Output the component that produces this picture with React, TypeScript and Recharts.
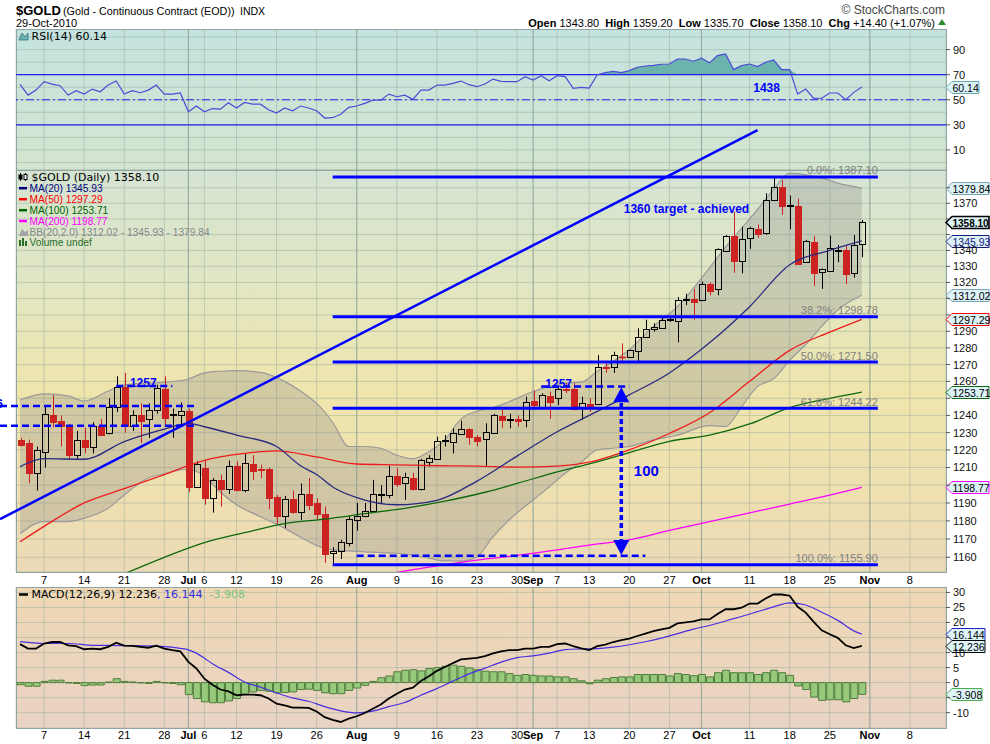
import React from 'react';
import {
  ComposedChart,
  XAxis,
  YAxis,
  Bar,
  Line,
  Area,
  CartesianGrid,
  ReferenceLine,
  ReferenceDot,
} from 'recharts';

// trading days on the x axis (month -> days), incl. the empty days up to mid Nov
const monthDays: [number, number[]][] = [
  [6, [2, 3, 4, 7, 8, 9, 10, 11, 14, 15, 16, 17, 18, 21, 22, 23, 24, 25, 28, 29, 30]],
  [7, [1, 2, 6, 7, 8, 9, 12, 13, 14, 15, 16, 19, 20, 21, 22, 23, 26, 27, 28, 29, 30]],
  [8, [2, 3, 4, 5, 6, 9, 10, 11, 12, 13, 16, 17, 18, 19, 20, 23, 24, 25, 26, 27, 30, 31]],
  [9, [1, 2, 3, 7, 8, 9, 10, 13, 14, 15, 16, 17, 20, 21, 22, 23, 24, 27, 28, 29, 30]],
  [10, [1, 4, 5, 6, 7, 8, 11, 12, 13, 14, 15, 18, 19, 20, 21, 22, 25, 26, 27, 28, 29]],
  [11, [1, 2, 3, 4, 5, 8, 9, 10, 11, 12]],
];
const dates = monthDays.flatMap(([m, ds]) => ds.map((d) => `${m}/${d}`));

const tickDates = ['6/7', '6/14', '6/21', '6/28', '7/1', '7/6', '7/12', '7/19', '7/26', '8/2', '8/9', '8/16', '8/23',
  '8/30', '9/1', '9/7', '9/13', '9/20', '9/27', '10/1', '10/11', '10/18', '10/25', '11/1', '11/8'];
const tickLabels = ['7', '14', '21', '28', 'Jul', '6', '12', '19', '26', 'Aug', '9', '16', '23',
  '30', 'Sep', '7', '13', '20', '27', 'Oct', '11', '18', '25', 'Nov', '8'];
const monthStarts = ['7/1', '8/2', '9/1', '10/1', '11/1'];

const open = [1226, 1224, 1207, 1219, 1240, 1237, 1234, 1217, 1226, 1222,
  1234, 1229.5, 1245, 1256.5, 1234, 1240, 1237.7, 1243, 1255.5, 1240,
  1240.3, 1242.6, 1199, 1209.6, 1193, 1203, 1198, 1211, 1197, 1212,
  1209.2, 1209, 1193.5, 1183, 1192, 1185, 1195, 1190, 1184, 1162.2,
  1163.4, 1168, 1180.5, 1182.7, 1185.7, 1194.5, 1194.6, 1205, 1201.3, 1204,
  1198, 1213.3, 1214.7, 1225, 1224.8, 1229.2, 1232, 1227.6, 1226.2, 1230,
  1239.7, 1237.5, 1238, 1237.3, 1248.3, 1245, 1251.5, 1250, 1255.5, 1255.3,
  1244.6, 1246.7, 1246.5, 1268.5, 1268.4, 1274.8, 1274.7, 1278, 1286.7, 1291.2,
  1292.2, 1297, 1296.3, 1309, 1309.7, 1309, 1319, 1315.7, 1339.9, 1349,
  1333.6, 1348, 1353.4, 1350.8, 1372.1, 1380.7, 1368.5, 1368, 1333, 1345.5,
  1326.2, 1327.3, 1339.5, 1340.3, 1325.6, 1343.8];
const high = [1227, 1226, 1222, 1245, 1252, 1240, 1235, 1231, 1233, 1236,
  1238, 1250, 1263, 1265, 1243, 1247, 1247, 1258, 1263, 1244,
  1247.6, 1244, 1213.5, 1214, 1204, 1206, 1214, 1213.5, 1218, 1217,
  1211.6, 1210, 1194.5, 1194, 1197, 1201, 1204, 1192.6, 1188, 1165.5,
  1169.5, 1182.5, 1190, 1190, 1203, 1200, 1211, 1209.6, 1207, 1207,
  1215, 1217, 1227.7, 1228.6, 1232.5, 1237, 1232.5, 1228.6, 1235.4, 1241,
  1244, 1241, 1240, 1251, 1254.5, 1253, 1254, 1257, 1259, 1258.9,
  1251, 1250, 1275.7, 1271, 1277.7, 1282.7, 1279, 1291.8, 1297, 1294.9,
  1299, 1299, 1311, 1313, 1316, 1320.5, 1320, 1341.3, 1349.7, 1364.6,
  1355, 1355, 1356.4, 1376.4, 1387.1, 1385, 1375, 1373, 1346.6, 1349,
  1328.7, 1349.3, 1343.4, 1343.4, 1349.7, 1359.2];
const low = [1222, 1201, 1197, 1210, 1233, 1222, 1215, 1215, 1218, 1218,
  1228, 1229, 1242, 1230, 1231, 1224, 1227, 1241, 1234, 1227,
  1234, 1196, 1198.5, 1189, 1184.6, 1188, 1195, 1196.5, 1196, 1203,
  1204, 1186.5, 1177.8, 1176, 1184, 1180.5, 1186, 1180.5, 1157, 1155.9,
  1159, 1166, 1174.6, 1182, 1185, 1190, 1192.6, 1199, 1191.7, 1197,
  1197, 1210.5, 1214.3, 1222, 1218, 1229, 1223, 1222, 1211, 1229.5,
  1232.5, 1232.5, 1233.5, 1233, 1243.2, 1243.5, 1238, 1246, 1253, 1243,
  1237.3, 1242, 1246, 1265, 1265, 1271.7, 1274, 1271.7, 1286, 1289.8,
  1291.8, 1295.7, 1283.3, 1306, 1297, 1308.5, 1312, 1312, 1339.2, 1326,
  1325.6, 1341, 1348, 1349.7, 1371.5, 1362.5, 1353.4, 1331, 1332.4, 1318,
  1316, 1327, 1332.6, 1319, 1322.9, 1335.7];
const close = [1223, 1207, 1220, 1240.6, 1236, 1234, 1217, 1226, 1222, 1234,
  1228.5, 1245, 1256.5, 1234, 1240, 1237, 1243, 1256, 1238.7, 1241,
  1242.6, 1199, 1212, 1192.6, 1203, 1198, 1211, 1197, 1212.5, 1208,
  1208.6, 1193, 1183, 1192, 1185, 1195, 1189, 1184, 1162, 1163.4,
  1168.2, 1181, 1182.7, 1185.7, 1195, 1195, 1205, 1200.6, 1204.4, 1198,
  1214, 1215.2, 1225.2, 1225.5, 1229.6, 1232, 1227.6, 1225.3, 1230.2, 1240,
  1237.3, 1238, 1237, 1248, 1246, 1252, 1248, 1255.3, 1255, 1243.8,
  1247.3, 1245.5, 1268.4, 1268, 1275.7, 1274.3, 1278.7, 1286.7, 1291.4, 1292.4,
  1296.9, 1297.5, 1309.1, 1309.5, 1308.1, 1319, 1314.7, 1340.7, 1349.1, 1333.6,
  1347.2, 1354, 1350.4, 1372.1, 1380.7, 1368.3, 1369, 1331.5, 1346, 1325.6,
  1328.1, 1341.3, 1340, 1325, 1343.7, 1358.1];

// moving averages / bands at a few days: [dayIndex, value]
const ma20: [number, number][] = [[0, 1210.5], [3, 1215], [8, 1214.7], [13, 1224.8], [18, 1232], [21, 1235.4],
  [23, 1233.4], [27, 1228.6], [32, 1222], [35, 1211], [37, 1206], [39, 1199], [42, 1193], [47, 1189], [52, 1191.5],
  [57, 1202.3], [62, 1216.5], [67, 1230.5], [71, 1240], [76, 1252], [81, 1265], [86, 1283], [91, 1305], [96, 1331],
  [101, 1340], [105, 1345.93]];
const ma50: [number, number][] = [[0, 1168.5], [3, 1177], [8, 1190], [13, 1198], [18, 1206], [23, 1214], [28, 1218],
  [32, 1219.5], [37, 1216], [42, 1212], [47, 1211.5], [52, 1211], [57, 1210.8], [62, 1210.2], [67, 1210.8], [71, 1213],
  [76, 1220], [81, 1229.5], [86, 1241.5], [91, 1260], [96, 1278.5], [101, 1289.5], [105, 1297.29]];
const ma100: [number, number][] = [[13, 1151], [18, 1160], [23, 1168], [28, 1173.5], [33, 1178.5], [38, 1181], [43, 1184],
  [48, 1187], [53, 1191], [58, 1196], [62, 1201], [67, 1207.5], [71, 1212], [76, 1218.5], [81, 1225], [86, 1228.5],
  [91, 1235], [96, 1244.5], [101, 1250], [105, 1253.71]];
const ma200: [number, number][] = [[46, 1151], [52, 1155.3], [57, 1158.5], [62, 1161], [67, 1164], [71, 1166.7],
  [76, 1169.5], [81, 1174.7], [86, 1179.6], [91, 1184.5], [96, 1189.4], [101, 1194.4], [105, 1198.77]];
// Bollinger band: [dayIndex, lower, upper]
const bands: [number, number, number][] = [[0, 1173, 1249], [3, 1179.6, 1252.6], [6, 1179.6, 1251.4], [8, 1181.5, 1248.4],
  [11, 1187, 1254.3], [13, 1194.5, 1258], [16, 1204, 1259], [18, 1206.5, 1259.4], [21, 1209, 1261.4], [23, 1205, 1265],
  [25, 1196, 1266], [27, 1189, 1266.4], [30, 1182.3, 1265.3], [33, 1176, 1260], [35, 1171, 1254.3], [37, 1166.5, 1247],
  [39, 1164, 1236], [41, 1163.5, 1222], [43, 1163, 1222], [45, 1162.5, 1221], [47, 1162.2, 1217], [49, 1161, 1215],
  [51, 1159.5, 1219], [53, 1158, 1226], [55, 1158, 1238], [57, 1160.3, 1242.5], [59, 1171.3, 1244.5], [61, 1180.5, 1248],
  [64, 1191.7, 1254], [66, 1199, 1257], [68, 1206.7, 1259], [70, 1213, 1259.5], [72, 1220, 1266], [74, 1221, 1272],
  [76, 1222, 1279], [79, 1225.8, 1293], [82, 1228.5, 1305], [86, 1234, 1329], [88, 1233.5, 1342], [90, 1245, 1354],
  [92, 1257, 1366], [94, 1261.5, 1379], [96, 1272.5, 1389.5], [98, 1282, 1388.5], [100, 1293, 1386.5],
  [102, 1303, 1383], [105, 1312.02, 1379.84]];

const rsi = [62.3, 53.7, 57.7, 64.4, 62.5, 61.2, 53.7, 57.2, 54.5, 58.5,
  56.4, 61.7, 64.9, 54.5, 57.2, 55.6, 57.7, 61.7, 54.5, 54.5,
  55.4, 40.4, 45, 40.4, 43, 42.5, 47.6, 43.4, 47.8, 46.5,
  46.5, 42, 39.4, 43.4, 41.2, 45, 43.4, 41.2, 35.4, 35.7,
  38.5, 43.9, 45, 47.1, 49.7, 49.7, 54.5, 52.4, 53.7, 50.3,
  57.7, 57.7, 61.7, 61.7, 63, 64.9, 62, 60.4, 62.5, 66.5,
  64.7, 64.4, 64.4, 68.4, 65.7, 69.2, 65.2, 69.2, 68.4, 59,
  59.8, 59.3, 70, 71.6, 72.6, 71.6, 73.2, 75.9, 76.9, 77.4,
  78.3, 78.5, 82.5, 82.5, 80.7, 83.1, 79.4, 85.2, 86.5, 74,
  77.2, 78.5, 76.4, 79.9, 81.7, 74, 74, 54.5, 58.5, 51.1,
  51.2, 55.4, 55.4, 50, 55.9, 60.14];

const macd = [12.8, 11.3, 11.3, 13, 13.5, 13.5, 12.4, 12.1, 11.1, 11.3,
  11.1, 11.9, 13.3, 12.3, 12.2, 11.9, 11.6, 12.3, 11.3, 10.8,
  10.4, 6.9, 4.7, 1.3, -0.7, -2.3, -2.9, -4.2, -4, -4,
  -4.2, -5.3, -7, -7.6, -8.3, -8.3, -8.4, -9.6, -11.5, -12.4,
  -13.1, -12, -11.2, -10.1, -8.7, -7.3, -5.3, -3.7, -2.3, -1.7,
  0.5, 2.1, 3.9, 5.2, 6.5, 7.7, 8, 8.2, 8.8, 9.7,
  10.4, 10.8, 10.8, 11.3, 11.3, 11.9, 11.9, 12.8, 13, 12.1,
  11.4, 10.8, 12.1, 12.6, 13.5, 14.1, 14.6, 15.5, 16.3, 17.1,
  17.7, 18.2, 19.7, 20, 20.4, 21, 21, 22.8, 24.4, 24.4,
  24.9, 26.3, 26.3, 28, 29.3, 29.3, 28.9, 25.2, 23.3, 20.2,
  17.4, 16.1, 14.9, 12.4, 11.5, 12.236];
const signal: [number, number][] = [[0, 13.6], [3, 13], [6, 13], [9, 12.4], [13, 12.3], [18, 12], [20, 11.4], [21, 10.9],
  [22, 9.8], [23, 8.1], [24, 6.3], [26, 3.4], [28, 0.2], [30, -1.5], [32, -3.4], [34, -5.1], [36, -6.2], [38, -8],
  [40, -9.4], [42, -10.1], [44, -9.5], [46, -8], [48, -6.6], [50, -4.2], [52, -2], [54, 0.5], [56, 2.9], [58, 4.8],
  [60, 6.8], [62, 8.3], [64, 8.9], [66, 9.8], [68, 11], [70, 11.2], [72, 11.3], [74, 11.8], [76, 12.6], [78, 13.6],
  [80, 14.8], [82, 16.3], [84, 17.8], [86, 19], [88, 20.5], [90, 22], [92, 23.6], [94, 25.2], [96, 26.5], [98, 25.8],
  [100, 23.4], [102, 20.7], [104, 17.2], [105, 16.144]];
const hist = [-0.7, -1.2, -1.2, 0.4, 0.8, 0.8, -0.1, -0.3, -1, -0.8,
  -0.8, 0.2, 1.3, 0.4, 0.2, -0.1, -0.3, 0.4, -0.1, -0.3,
  -0.7, -4, -5.3, -6.4, -6.7, -6.7, -6.1, -5.3, -3.9, -3.1,
  -2.6, -2.9, -3.4, -3.3, -3.1, -2.3, -2.2, -2.6, -3.4, -3.7,
  -3.7, -2.6, -1.8, -0.9, 0.4, 1.6, 2.2, 3.6, 4.1, 4.3,
  3.9, 4.7, 5, 5.4, 5.8, 5.4, 4.9, 4.3, 3.8, 3.6,
  3.6, 3, 2.4, 2.7, 2.4, 2.2, 2.2, 1.9, 1.9, 1.3,
  0.6, -0.4, 0.8, 1.3, 1.7, 1.9, 1.9, 2.7, 2.7, 2.7,
  2.7, 2.2, 3, 2.7, 2.3, 2.7, 1.9, 3.3, 4.1, 3.3,
  3.3, 3.3, 2.7, 3.3, 4.1, 3.3, 2.4, -1.1, -2.3, -4.8,
  -5.9, -5.7, -5.7, -6.4, -5.3, -3.908];

const priceTicks = [1160, 1170, 1180, 1190, 1200, 1210, 1220, 1230, 1240, 1250, 1260, 1270, 1280, 1290, 1300,
  1310, 1320, 1330, 1340, 1350, 1360, 1370, 1380];
const coveredPrice = [1200, 1250, 1300, 1310, 1350, 1360, 1380];
const rsiTicks = [0, 10, 20, 30, 40, 50, 60, 70, 80, 90, 100];
const rsiLabels = [10, 30, 50, 70, 90];
const macdTicks = [-10, -5, 0, 5, 10, 15, 20, 25, 30];
const coveredMacd = [15, -5];

const fibs: [string, number][] = [['0.0%', 1387.1], ['38.2%', 1298.78], ['50.0%', 1271.5], ['61.8%', 1244.22], ['100.0%', 1155.9]];

const m20 = new Map(ma20);
const m50 = new Map(ma50);
const m100 = new Map(ma100);
const m200 = new Map(ma200);
const sig = new Map(signal);
const bb = new Map(bands.map(([i, lo, up]) => [i, [lo, up]]));

const rows = dates.map((d, i) => ({
  d,
  o: open[i] ?? null,
  h: high[i] ?? null,
  l: low[i] ?? null,
  c: close[i] ?? null,
  ma20: m20.get(i) ?? null,
  ma50: m50.get(i) ?? null,
  ma100: m100.get(i) ?? null,
  ma200: m200.get(i) ?? null,
  bb: bb.get(i) ?? null,
  rsi: rsi[i] ?? null,
  rsiHi: rsi[i] == null ? null : [70, Math.max(70, rsi[i])],
  macd: macd[i] ?? null,
  sig: sig.get(i) ?? null,
  hist: hist[i] ?? null,
}));

const AX = '"Liberation Sans", Arial, sans-serif';
const LG = '"DejaVu Sans", Verdana, sans-serif';
const BLUE = '#0000ff';
const W = 990;

function Candle(props: any) {
  const { x, y, width, height, payload } = props;
  if (!payload || payload.h == null || !isFinite(y) || !isFinite(height)) return null;
  const { o, h, l, c } = payload;
  const top = Math.min(y, y + height);
  const bot = Math.max(y, y + height);
  const span = Math.log(h) - Math.log(l);
  const py = (p: number) => (span > 0 ? top + ((bot - top) * (Math.log(h) - Math.log(p))) / span : top);
  const cx = Math.round(x + width / 2) + 0.5;
  const up = c >= o;
  const col = up ? '#000000' : '#cc2222';
  const bt = Math.round(py(Math.max(o, c))) + 0.5;
  const bb2 = Math.round(py(Math.min(o, c))) + 0.5;
  if (bb2 - bt < 1) {
    return (
      <g>
        <line x1={cx} x2={cx} y1={top} y2={bot} stroke={col} />
        <line x1={cx - 3.5} x2={cx + 3.5} y1={bt} y2={bt} stroke={col} strokeWidth={1.5} />
      </g>
    );
  }
  return (
    <g>
      <line x1={cx} x2={cx} y1={top} y2={bt} stroke={col} />
      <line x1={cx} x2={cx} y1={bb2} y2={bot} stroke={col} />
      <rect x={cx - 3} y={bt} width={6} height={bb2 - bt} fill={up ? 'none' : col} stroke={col} />
    </g>
  );
}

const XTick = (dy: number) => (p: any) => {
  const k = tickDates.indexOf(p.payload.value);
  const label = tickLabels[k] ?? '';
  const bold = isNaN(Number(label));
  return (
    <text x={p.x} y={p.y + dy} textAnchor="middle" fontSize={11} fontFamily={AX}
      fontWeight={bold ? 'bold' : 'normal'} fill="#000">{label}</text>
  );
};

const YTick = (show: (v: number) => boolean, mark: (v: number) => boolean) => (p: any) => {
  const v = p.payload.value;
  return (
    <g>
      {mark(v) && <line x1={p.x} x2={p.x + 4} y1={p.y} y2={p.y} stroke="#555" />}
      {show(v) && (
        <text x={p.x + 7} y={p.y + 4} fontSize={11} fontFamily={AX} fill="#111">{v}</text>
      )}
    </g>
  );
};

const tag = (text: string, border: string, bold = false, color = '#000', w = 43) => (p: any) => {
  const x0 = p.cx + 4;
  const y0 = Math.round(p.cy) + 0.5;
  return (
    <g>
      <polygon
        points={`${x0},${y0} ${x0 + 6},${y0 - 6} ${x0 + w},${y0 - 6} ${x0 + w},${y0 + 6} ${x0 + 6},${y0 + 6}`}
        fill="#dcf3f8" stroke={border} strokeWidth={bold ? 1.6 : 1} />
      <text x={x0 + 6.5} y={y0 + 4} fontSize={bold ? 10 : 10.5} fontFamily={AX}
        fontWeight={bold ? 'bold' : 'normal'} fill={color}>{text}</text>
    </g>
  );
};

const note = (text: string, dx: number, dy: number, size: number, anchor = 'middle', color = BLUE, weight = 'bold') =>
  (p: any) => (
    <text x={p.cx + dx} y={p.cy + dy} textAnchor={anchor} fontSize={size} fontWeight={weight} fill={color}
      fontFamily={AX}>{text}</text>
  );

const arrowUp = (p: any) => (
  <polygon points={`${p.cx},${p.cy} ${p.cx + 8},${p.cy + 15} ${p.cx - 8},${p.cy + 15}`} fill={BLUE} />
);
const arrowDown = (p: any) => (
  <polygon points={`${p.cx},${p.cy} ${p.cx + 8},${p.cy - 15} ${p.cx - 8},${p.cy - 15}`} fill={BLUE} />
);

// trend line: extend the drawn segment back to the left edge
const trendShape = (p: any) => {
  const k = (p.y2 - p.y1) / (p.x2 - p.x1);
  return <line x1={0} y1={p.y1 - k * p.x1} x2={p.x2} y2={p.y2} stroke={BLUE} strokeWidth={2.5} />;
};
const leftDash = (p: any) => (
  <line x1={0} y1={p.y1} x2={p.x2} y2={p.y2} stroke={BLUE} strokeWidth={2.5} strokeDasharray="7 4" />
);

const grid = (
  <CartesianGrid stroke="#92a69c" strokeOpacity={0.45} />
);
const monthGrid = (
  <CartesianGrid horizontal={false} verticalValues={monthStarts} stroke="#7d9690" strokeOpacity={0.6} />
);

const panel = (top: number, height: number, bg: string): React.CSSProperties => ({
  position: 'absolute', left: 16, top, width: 931, height, background: bg,
  border: '1px solid #8fa5a5', boxSizing: 'border-box',
});

export default function App() {
  return (
    <div style={{ position: 'absolute', left: 0, top: 0, width: W, height: 744, background: '#fff', overflow: 'hidden' }}>
      <div style={panel(29, 142, 'linear-gradient(to bottom, #c4e3df 0%, #d4e5cf 100%)')} />
      <div style={panel(170, 403, 'linear-gradient(to bottom, #d5e4d3 0%, #e2e6c1 30%, #efe5ac 55%, #efe0b0 80%, #ecd9b6 100%)')} />
      <div style={panel(587, 142, 'linear-gradient(to bottom, #eed8b5 0%, #e9d3c3 100%)')} />

      {/* RSI */}
      <div style={{ position: 'absolute', left: 0, top: 29 }}>
        <ComposedChart width={W} height={141} data={rows} margin={{ top: 0, right: 0, bottom: 0, left: 16 }}>
          {grid}
          {monthGrid}
          <XAxis dataKey="d" scale="band" hide ticks={tickDates} interval={0} />
          <YAxis orientation="right" width={44} domain={[-6, 106.4]} ticks={rsiTicks} allowDataOverflow
            axisLine={false} tickLine={false} tickSize={0} tickMargin={0} interval={0}
            tick={YTick((v) => rsiLabels.includes(v), (v) => rsiLabels.includes(v))} />
          <Area dataKey="rsiHi" type="linear" stroke="none" fill="#6ab4ad" fillOpacity={1} isAnimationActive={false} />
          <ReferenceLine y={70} stroke="#2222ee" strokeWidth={1.2} />
          <ReferenceLine y={30} stroke="#2222ee" strokeWidth={1.2} />
          <ReferenceLine y={50} stroke="#2222ee" strokeWidth={1.2} strokeDasharray="8 3 2 3" />
          <Line dataKey="rsi" type="linear" stroke="#4b4bd6" strokeWidth={1.2} dot={false} isAnimationActive={false} />
          <ReferenceDot x={dates[93]} y={56.4} shape={note('1438', 1, 0, 12)} />
          <ReferenceDot x={dates[115]} y={60.14} shape={tag('60.14', '#6aa8b0', false, '#000', 33)} />
        </ComposedChart>
      </div>

      {/* price */}
      <div style={{ position: 'absolute', left: 0, top: 29 }}>
        <ComposedChart width={W} height={561} data={rows} margin={{ top: 141, right: 0, bottom: 0, left: 16 }}>
          {grid}
          {monthGrid}
          <XAxis dataKey="d" scale="band" ticks={tickDates} interval={0} height={18} axisLine={false}
            tickLine={false} tickSize={0} tickMargin={0} tick={XTick(11.5)} />
          <YAxis orientation="right" width={44} scale="log" domain={[1152, 1391.6]} allowDataOverflow
            ticks={priceTicks} interval={0} axisLine={false} tickLine={false} tickSize={0} tickMargin={0}
            tick={YTick((v) => !coveredPrice.includes(v), () => true)} />
          <Area dataKey="bb" type="monotone" connectNulls stroke="#9a9a9a" strokeWidth={1.2} fill="#8c8c8c"
            fillOpacity={0.3} isAnimationActive={false} />
          <Line dataKey="ma200" type="monotone" connectNulls stroke="#ff00ff" strokeWidth={1.3} dot={false} isAnimationActive={false} />
          <Line dataKey="ma100" type="monotone" connectNulls stroke="#0c6a0c" strokeWidth={1.3} dot={false} isAnimationActive={false} />
          <Line dataKey="ma50" type="monotone" connectNulls stroke="#ee1c1c" strokeWidth={1.3} dot={false} isAnimationActive={false} />
          <Line dataKey="ma20" type="monotone" connectNulls stroke="#2a2a80" strokeWidth={1.3} dot={false} isAnimationActive={false} />
          <Bar dataKey={(r: any) => (r.h == null ? null : [r.l, r.h])} barSize={7} shape={(p: any) => <Candle {...p} />}
            isAnimationActive={false} />

          {/* annotations */}
          <ReferenceLine segment={[{ x: dates[0], y: 1186.7 }, { x: dates[92], y: 1418 }]} ifOverflow="visible"
            shape={trendShape} />
          {fibs.map(([pct, v]) => (
            <ReferenceLine key={pct} segment={[{ x: dates[39], y: v }, { x: dates[107], y: v }]} stroke={BLUE}
              strokeWidth={3} />
          ))}
          {fibs.map(([pct, v]) => (
            <ReferenceDot key={`l${pct}`} x={dates[107]} y={v}
              shape={note(`${pct}: ${v.toFixed(2)}`, 0, -2.5, 11, 'end', '#7f7f7f', 'normal')} />
          ))}
          <ReferenceLine segment={[{ x: dates[0], y: 1245.5 }, { x: dates[22], y: 1245.5 }]} shape={leftDash} />
          <ReferenceLine segment={[{ x: dates[0], y: 1234 }, { x: dates[22], y: 1234 }]} shape={leftDash} />
          <ReferenceLine segment={[{ x: dates[12], y: 1257.3 }, { x: dates[19], y: 1257.3 }]} stroke={BLUE}
            strokeWidth={2.5} strokeDasharray="7 4" />
          <ReferenceLine segment={[{ x: dates[65], y: 1256.9 }, { x: dates[76], y: 1256.9 }]} stroke={BLUE}
            strokeWidth={2.5} strokeDasharray="7 4" />
          <ReferenceLine segment={[{ x: dates[42], y: 1160.9 }, { x: dates[78], y: 1160.9 }]} stroke={BLUE}
            strokeWidth={2.5} strokeDasharray="7 4" />
          <ReferenceLine segment={[{ x: dates[75], y: 1247.3 }, { x: dates[75], y: 1168.9 }]} stroke={BLUE}
            strokeWidth={3.5} strokeDasharray="5 3" />
          <ReferenceDot x={dates[75]} y={1256.5} shape={arrowUp} />
          <ReferenceDot x={dates[75]} y={1161.3} shape={arrowDown} />
          <ReferenceDot x={dates[0]} y={1245.5} shape={note('1246', -17, 2, 12, 'end')} />
          <ReferenceDot x={dates[15]} y={1257.3} shape={note('1257', 3, 1, 12)} />
          <ReferenceDot x={dates[67]} y={1256.9} shape={note('1257', 1.5, 1, 12)} />
          <ReferenceDot x={dates[78]} y={1208.6} shape={note('100', 1, 6, 15)} />
          <ReferenceDot x={dates[83]} y={1360} shape={note('1360 target - achieved', 1, -5.5, 12)} />

          {/* last-value tags */}
          <ReferenceDot x={dates[115]} y={1379.84} shape={tag('1379.84', '#7aa6b4')} />
          <ReferenceDot x={dates[115]} y={1345.93} shape={tag('1345.93', '#1a1a80', false, '#1a1a80')} />
          <ReferenceDot x={dates[115]} y={1358.1} shape={tag('1358.10', '#000', true)} />
          <ReferenceDot x={dates[115]} y={1312.02} shape={tag('1312.02', '#7aa6b4')} />
          <ReferenceDot x={dates[115]} y={1297.29} shape={tag('1297.29', '#ff0000')} />
          <ReferenceDot x={dates[115]} y={1253.71} shape={tag('1253.71', '#0c6a0c')} />
          <ReferenceDot x={dates[115]} y={1198.77} shape={tag('1198.77', '#ff00ff')} />
        </ComposedChart>
      </div>

      {/* MACD */}
      <div style={{ position: 'absolute', left: 0, top: 587 }}>
        <ComposedChart width={W} height={157} data={rows} margin={{ top: 0, right: 0, bottom: 0, left: 16 }}>
          {grid}
          {monthGrid}
          <XAxis dataKey="d" scale="band" ticks={tickDates} interval={0} height={16} axisLine={false}
            tickLine={false} tickSize={0} tickMargin={0} tick={XTick(10.5)} />
          <YAxis orientation="right" width={44} domain={[-15.1, 31.8]} allowDataOverflow ticks={macdTicks}
            interval={0} axisLine={false} tickLine={false} tickSize={0} tickMargin={0}
            tick={YTick((v) => !coveredMacd.includes(v), () => true)} />
          <Bar dataKey="hist" barSize={7} fill="#97c97c" stroke="#4f7d3c" strokeWidth={1} isAnimationActive={false} />
          <Line dataKey="sig" type="monotone" connectNulls stroke="#4a2fe0" strokeWidth={1.2} dot={false} isAnimationActive={false} />
          <Line dataKey="macd" type="linear" stroke="#000" strokeWidth={1.8} dot={false} isAnimationActive={false} />
          <ReferenceDot x={dates[115]} y={16.144} shape={tag('16.144', '#2020c0', false, '#000', 39)} />
          <ReferenceDot x={dates[115]} y={12.236} shape={tag('12.236', '#000', false, '#000', 39)} />
          <ReferenceDot x={dates[115]} y={-3.908} shape={tag('-3.908', '#4caf50', false, '#000', 36)} />
        </ComposedChart>
      </div>

      {/* titles and legends */}
      <svg width={W} height={744} style={{ position: 'absolute', left: 0, top: 0, pointerEvents: 'none' }}>
        <text x={16} y={15} fontFamily={AX} fontSize={13} fontWeight="bold">$GOLD</text>
        <text x={63} y={15} fontFamily={AX} fontSize={10.8}>(Gold - Continuous Contract (EOD))</text>
        <text x={240} y={15} fontFamily={AX} fontSize={10.5}>INDX</text>
        <text x={16} y={26.5} fontFamily={AX} fontSize={11}>29-Oct-2010</text>
        <text x={945} y={14} textAnchor="end" fontFamily={AX} fontSize={12} fill="#444">© StockCharts.com</text>
        <text x={935} y={26.5} textAnchor="end" fontFamily={AX} fontSize={11} style={{ whiteSpace: 'pre' }}>
          <tspan fontWeight="bold">Open</tspan>{' 1343.80  '}
          <tspan fontWeight="bold">High</tspan>{' 1359.20  '}
          <tspan fontWeight="bold">Low</tspan>{' 1335.70  '}
          <tspan fontWeight="bold">Close</tspan>{' 1358.10  '}
          <tspan fontWeight="bold">Chg</tspan>{' +14.40 (+1.07%)'}
        </text>
        <polygon points="938,25 946,25 942,19" fill="#2e8b2e" />

        <polygon points="19,40 22,33 25,37 28,33 28,40" fill="#6ab4ad" stroke="#2b6f8a" strokeWidth={0.8} />
        <text x={31.5} y={39.5} fontFamily={LG} fontSize={11}>RSI(14) 60.14</text>

        <g stroke="#000" strokeWidth={1}>
          <line x1={20.5} x2={20.5} y1={173} y2={181} />
          <rect x={19} y={175} width={3} height={4} fill="#000" />
          <line x1={25.5} x2={25.5} y1={173} y2={181} />
          <rect x={24} y={174.5} width={3} height={5} fill="#fff" />
        </g>
        <text x={31.5} y={181} fontFamily={LG} fontSize={11}>$GOLD (Daily) 1358.10</text>
        {[
          ['MA(20) 1345.93', '#000080', 191.7],
          ['MA(50) 1297.29', '#ff0000', 202.7],
          ['MA(100) 1253.71', '#006400', 213.7],
          ['MA(200) 1198.77', '#ff00ff', 224.5],
        ].map(([t, c, y]) => (
          <g key={t as string}>
            <line x1={19} x2={27} y1={(y as number) - 3.5} y2={(y as number) - 3.5} stroke={c as string} strokeWidth={2.5} />
            <text x={29.5} y={y as number} fontFamily={AX} fontSize={10.2} fill={c as string}>{t}</text>
          </g>
        ))}
        <polygon points="19,236 22,229 25,232 28,230 28,236" fill="#a0a4a4" />
        <text x={29.5} y={235.5} fontFamily={AX} fontSize={10.2} fill="#84898c">BB(20,2.0) 1312.02 - 1345.93 - 1379.84</text>
        <g fill="#2a6e2a">
          <rect x={19} y={240} width={2} height={6} />
          <rect x={22} y={238} width={2} height={8} />
          <rect x={25} y={241} width={2} height={5} />
        </g>
        <text x={29.5} y={246} fontFamily={AX} fontSize={10.2} fill="#2a6e2a">Volume undef</text>

        <line x1={19} x2={28} y1={594.5} y2={594.5} stroke="#000" strokeWidth={2.5} />
        <text x={31.5} y={598} fontFamily={LG} fontSize={11}>
          <tspan fill="#000">MACD(12,26,9) 12.236</tspan>
          <tspan fill="#3030e0">, 16.144</tspan>
          <tspan fill="#7cc47c">, -3.908</tspan>
        </text>
      </svg>
    </div>
  );
}
